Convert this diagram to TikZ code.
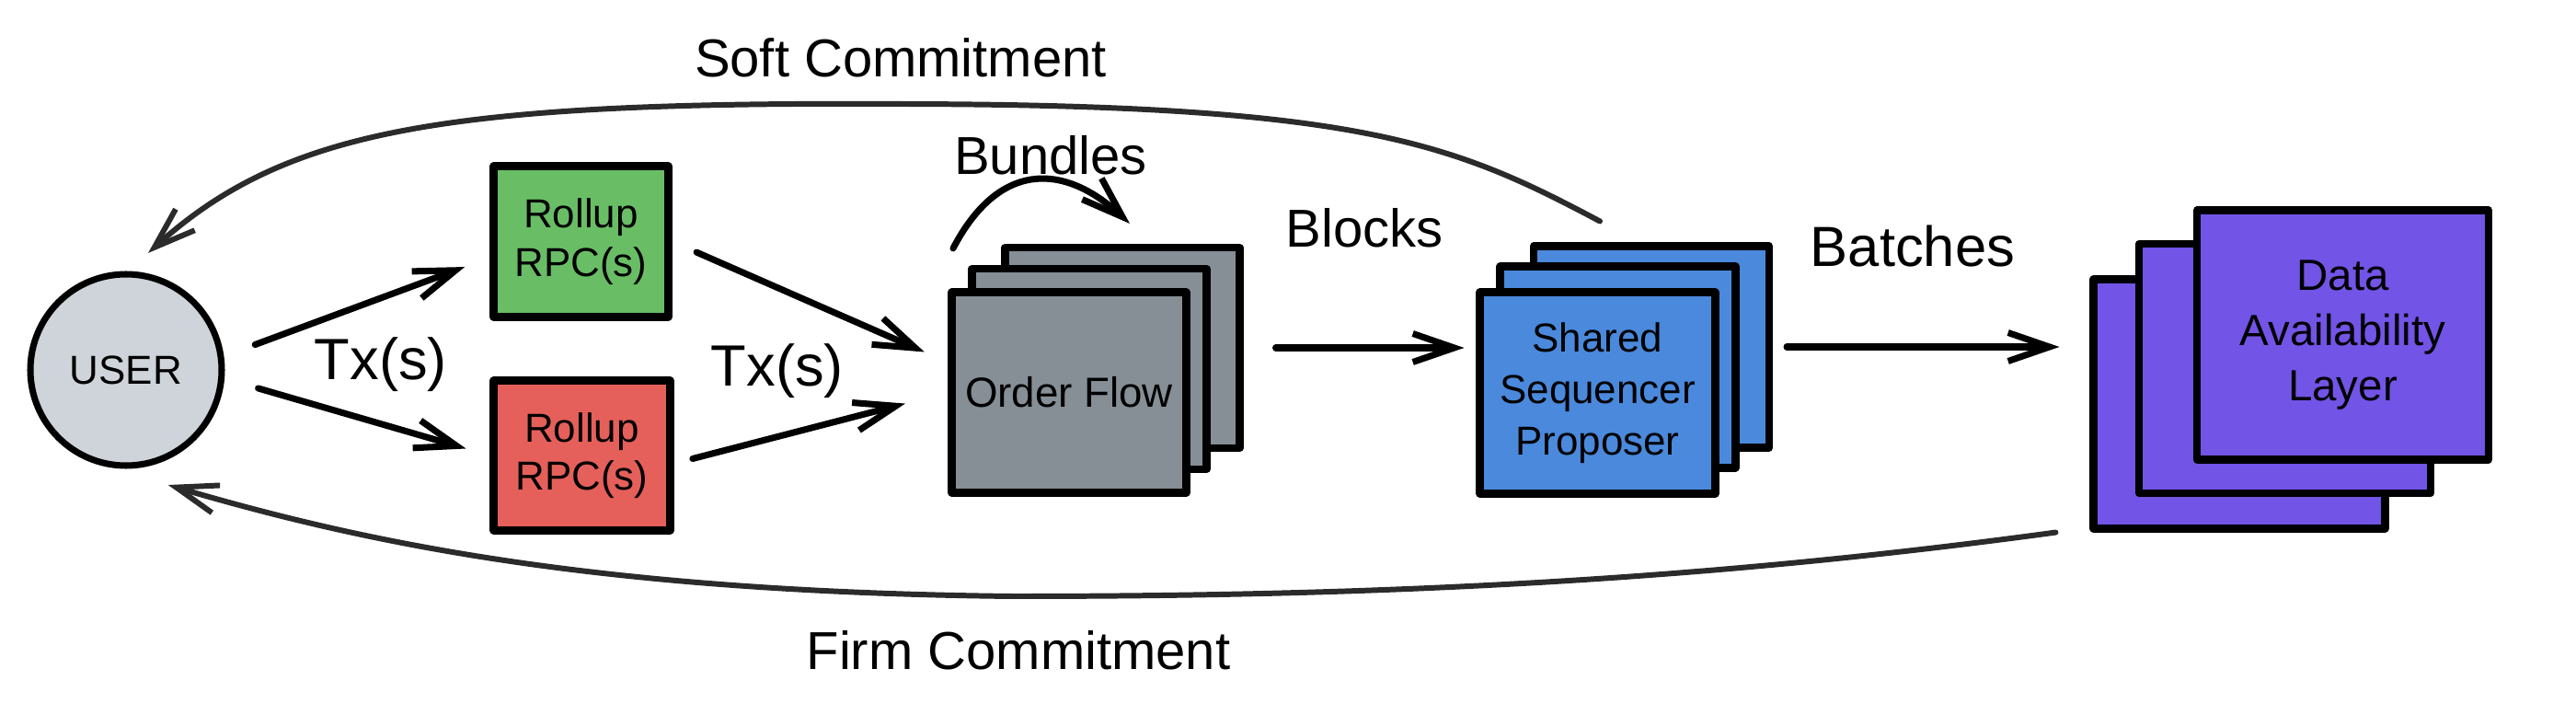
\documentclass[tikz,border=0pt]{standalone}
\usepackage{fontspec}
\setmainfont{Liberation Sans}
\usetikzlibrary{arrows.meta}

\definecolor{userfill}{HTML}{CED4DA}
\definecolor{rpcgreen}{HTML}{69BE65}
\definecolor{rpcred}{HTML}{E5605A}
\definecolor{flowgray}{HTML}{868E96}
\definecolor{seqblue}{HTML}{4A89DC}
\definecolor{dapurple}{HTML}{7254E6}
\definecolor{curvegray}{HTML}{2B2B2B}

\tikzset{
  card/.style={draw, line width=2.3pt, line join=round, inner sep=0pt, align=center, font=\fontsize{12.5}{15}\selectfont},
  arr/.style={-{Straight Barb[length=4.5mm,width=3.1mm]}, line width=2pt, line cap=round, line join=round},
  lbl/.style={inner sep=0pt, font=\fontsize{16.5}{20}\selectfont},
}

\begin{document}
\begin{tikzpicture}
\useasboundingbox (0,0) rectangle (28,7.76);

% User
\node[card, circle, fill=userfill, minimum size=2.08cm, line width=2pt] (user) at (1.37,3.74) {USER};

% Rollup RPCs
\node[card, fill=rpcgreen, minimum width=1.9cm, minimum height=1.64cm] (rpcA) at (6.315,5.135) {Rollup\\RPC(s)};
\node[card, fill=rpcred, minimum width=1.92cm, minimum height=1.63cm] (rpcB) at (6.325,2.81) {Rollup\\RPC(s)};

% Order flow stack
\node[card, fill=flowgray, minimum width=2.55cm, minimum height=2.18cm] (flowC) at (12.20,3.98) {};
\node[card, fill=flowgray, minimum width=2.55cm, minimum height=2.18cm] (flowB) at (11.84,3.75) {};
\node[card, fill=flowgray, minimum width=2.55cm, minimum height=2.18cm, font=\fontsize{13}{16}\selectfont] (flowA) at (11.62,3.495) {Order Flow};

% Shared sequencer stack
\node[card, fill=seqblue, minimum width=2.56cm, minimum height=2.19cm] (sharedC) at (17.95,3.99) {};
\node[card, fill=seqblue, minimum width=2.56cm, minimum height=2.19cm] (sharedB) at (17.585,3.77) {};
\node[card, fill=seqblue, minimum width=2.56cm, minimum height=2.19cm, font=\fontsize{12.5}{16}\selectfont] (sharedA) at (17.365,3.49) {Shared\\Sequencer\\Proposer};

% Data availability stack
\node[card, fill=dapurple, minimum width=3.17cm, minimum height=2.71cm] (daA) at (24.34,3.37) {};
\node[card, fill=dapurple, minimum width=3.17cm, minimum height=2.71cm] (daB) at (24.835,3.755) {};
\node[card, fill=dapurple, minimum width=3.17cm, minimum height=2.71cm, font=\fontsize{13.5}{17}\selectfont] (daC) at (25.465,4.12) {Data\\Availability\\Layer};

% Transactions
\draw[arr, shorten <=0.36cm, shorten >=0.29cm] (user.8) -- (rpcA.190);
\draw[arr, shorten <=0.38cm, shorten >=0.27cm] (user.-5) -- (rpcB.west);
\draw[arr, shorten <=0.29cm, shorten >=0.28cm] (rpcA.east) -- (flowA.166);
\draw[arr, shorten <=0.21cm, shorten >=0.48cm] (rpcB.-5) -- (flowA.west);
\node[lbl, font=\fontsize{18}{20}\selectfont] (txA) at (4.14,3.80) {Tx(s)};
\node[lbl, font=\fontsize{18}{20}\selectfont] (txB) at (8.45,3.73) {Tx(s)};

% Bundles
\draw[arr] ([shift={(0.055,0.435)}]flowA.north west) .. controls (10.85,6.0) and (11.55,6.0) .. ([shift={(0.08,0.22)}]flowC.north);
\node[lbl] (bundles) at (11.42,6.07) {Bundles};

% Blocks and batches
\draw[arr, shorten <=0.35cm, shorten >=0.13cm] (flowC.east) -- (flowC.east -| sharedA.west);
\node[lbl] (blocks) at (14.83,5.28) {Blocks};
\draw[arr, shorten <=0.15cm, shorten >=0.33cm] (sharedC.east) -- (sharedC.east -| daA.west);
\node[lbl, font=\fontsize{17.5}{20}\selectfont] (batches) at (20.79,5.08) {Batches};

% Commitments
\draw[arr, curvegray, line width=1.7pt] ([xshift=-0.56cm,yshift=0.23cm]sharedC.north) .. controls (15.8,6.2) and (14.8,6.62) .. (9.82,6.63) .. controls (4.8,6.66) and (3.1,6.35) .. ([shift={(0.035,0.215)}]user.79);
\node[lbl] (soft) at (9.79,7.13) {Soft Commitment};
\draw[arr, curvegray, line width=1.7pt] ([xshift=-0.37cm]daA.south west) .. controls (18.5,1.45) and (15.0,1.28) .. (11.0,1.28) .. controls (6.5,1.33) and (4.0,1.85) .. ([shift={(0.09,-0.24)}]user.-70);
\node[lbl] (firm) at (11.07,0.69) {Firm Commitment};

\end{tikzpicture}
\end{document}
